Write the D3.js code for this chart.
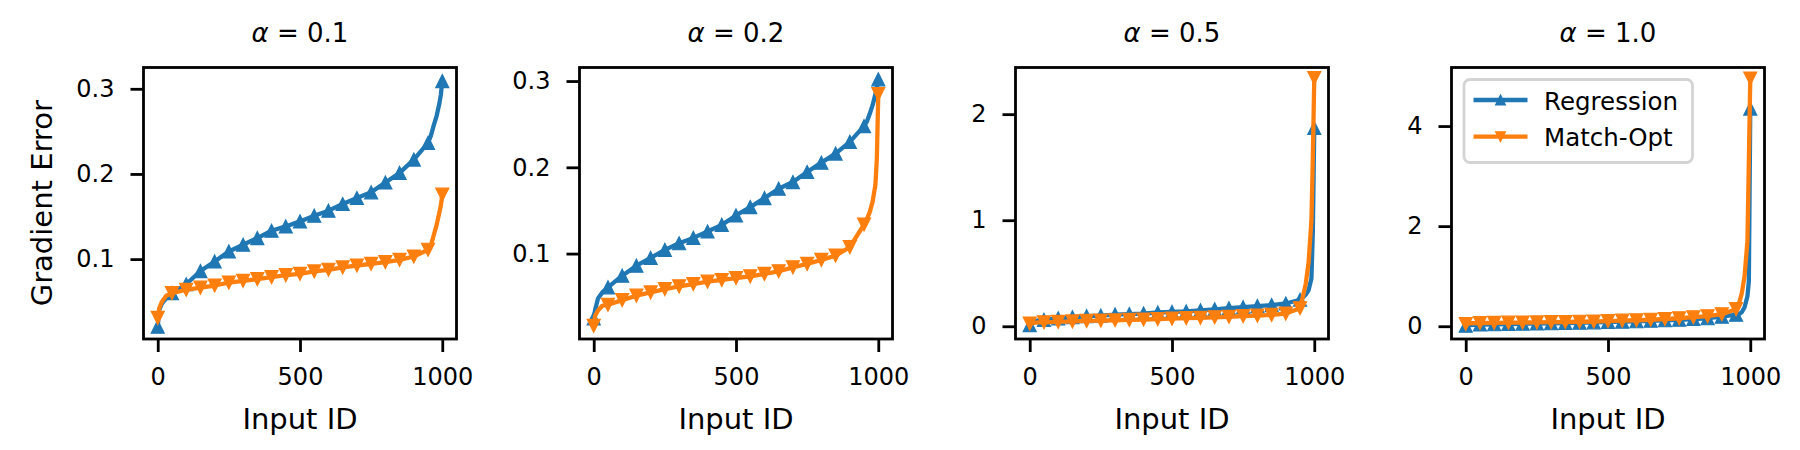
<!DOCTYPE html>
<html>
<head>
<meta charset="utf-8">
<script src="https://cdn.jsdelivr.net/npm/d3@7/dist/d3.min.js"></script>
<style>
  body { margin: 0; background: #fff; }
  svg { display: block; }
  text { font-family: "DejaVu Sans", sans-serif; fill: #000; }
</style>
</head>
<body>
<svg id="chart" width="1800" height="450"></svg>
<script>
// ---------------- DATA ----------------
const alphas = ["0.1", "0.2", "0.5", "1.0"];
const seriesNames = ["Regression", "Match-Opt"];
const inputIds = [0, 5, 15, 30, 50, 100, 150, 200, 250, 300, 350, 400, 450, 500, 550, 600, 650, 700, 750, 800, 850, 900, 950, 960, 970, 980, 990, 995, 1000];

const regression01 = [0.0207, 0.040, 0.048, 0.054, 0.060, 0.0705, 0.0860, 0.0973, 0.109, 0.1169, 0.1247, 0.1333, 0.1384, 0.1443, 0.151, 0.1569, 0.1647, 0.1718, 0.1784, 0.190, 0.2012, 0.2169, 0.2365, 0.245, 0.257, 0.268, 0.283, 0.293, 0.309];
const matchOpt01   = [0.031, 0.042, 0.050, 0.057, 0.060, 0.0640, 0.0665, 0.0690, 0.0725, 0.0745, 0.0765, 0.0788, 0.0812, 0.0827, 0.0855, 0.0875, 0.0902, 0.0925, 0.0945, 0.0965, 0.0992, 0.1031, 0.111, 0.116, 0.128, 0.140, 0.155, 0.163, 0.1757];

const regression02 = [0.025, 0.035, 0.048, 0.055, 0.0609, 0.0744, 0.086, 0.095, 0.1043, 0.112, 0.1182, 0.1256, 0.1333, 0.1442, 0.1539, 0.1643, 0.1752, 0.1829, 0.1946, 0.2054, 0.2159, 0.2295, 0.2477, 0.253, 0.262, 0.272, 0.285, 0.292, 0.302];
const matchOpt02   = [0.0163, 0.028, 0.034, 0.0395, 0.0407, 0.0461, 0.0512, 0.055, 0.0589, 0.062, 0.0647, 0.0674, 0.0694, 0.0717, 0.0736, 0.0764, 0.0795, 0.0841, 0.088, 0.0926, 0.0977, 0.1074, 0.1337, 0.140, 0.148, 0.160, 0.180, 0.210, 0.285];

const regression05 = [0.01, 0.03, 0.045, 0.055, 0.06, 0.075, 0.085, 0.095, 0.10, 0.11, 0.115, 0.12, 0.13, 0.135, 0.14, 0.15, 0.16, 0.17, 0.18, 0.19, 0.20, 0.215, 0.25, 0.27, 0.30, 0.34, 0.45, 0.9, 1.87];
const matchOpt05   = [0.025, 0.03, 0.033, 0.036, 0.038, 0.042, 0.046, 0.05, 0.054, 0.057, 0.06, 0.064, 0.068, 0.072, 0.076, 0.08, 0.085, 0.09, 0.095, 0.10, 0.107, 0.12, 0.17, 0.28, 0.40, 0.60, 1.0, 1.6, 2.34];

const regression10 = [0.01, 0.02, 0.025, 0.03, 0.035, 0.04, 0.045, 0.05, 0.055, 0.06, 0.065, 0.07, 0.078, 0.085, 0.092, 0.10, 0.11, 0.12, 0.13, 0.145, 0.16, 0.19, 0.23, 0.24, 0.28, 0.38, 0.60, 0.90, 4.35];
const matchOpt10   = [0.045, 0.055, 0.06, 0.063, 0.065, 0.068, 0.071, 0.074, 0.077, 0.081, 0.085, 0.09, 0.095, 0.103, 0.112, 0.12, 0.13, 0.145, 0.16, 0.18, 0.20, 0.24, 0.34, 0.45, 0.65, 1.0, 1.7, 3.3, 4.95];

const xTicks = [0, 500, 1000];
const yTicks01 = [0.1, 0.2, 0.3];
const yTicks02 = [0.1, 0.2, 0.3];
const yTicks05 = [0, 1, 2];
const yTicks10 = [0, 2, 4];
const markerEvery = 50;

// ---------------- LAYOUT / STYLE ----------------
const colors = ["#1f77b4", "#ff7f0e"];
const panels = [
  { alpha: alphas[0], series: [regression01, matchOpt01], yTicks: yTicks01, yDomain: [0.0062, 0.325], fmt: d3.format(".1f") },
  { alpha: alphas[1], series: [regression02, matchOpt02], yTicks: yTicks02, yDomain: [0.001, 0.3157], fmt: d3.format(".1f") },
  { alpha: alphas[2], series: [regression05, matchOpt05], yTicks: yTicks05, yDomain: [-0.12, 2.44], fmt: d3.format("d") },
  { alpha: alphas[3], series: [regression10, matchOpt10], yTicks: yTicks10, yDomain: [-0.255, 5.17], fmt: d3.format("d") },
];
const lefts = [143.5, 579.5, 1015.5, 1451.5];
const pw = 313, plotTop = 67.5, plotBottom = 339;
const frameW = 2.8, tickLen = 13, tickPad = 16;
const lineW = 4.3, mHalf = 6.5;

const svg = d3.select("#chart");

function triPath(up, s) {
  return up ? `M0,${-s}L${s},${s}L${-s},${s}Z` : `M0,${s}L${s},${-s}L${-s},${-s}Z`;
}

panels.forEach((p, pi) => {
  const x0 = lefts[pi];
  const x = d3.scaleLinear().domain([-50, 1050]).range([x0, x0 + pw]);
  const y = d3.scaleLinear().domain(p.yDomain).range([plotBottom, plotTop]);
  const g = svg.append("g");

  const clipId = "clip" + pi;
  svg.append("clipPath").attr("id", clipId)
    .append("rect").attr("x", x0).attr("y", plotTop).attr("width", pw).attr("height", plotBottom - plotTop);

  const plot = g.append("g").attr("clip-path", `url(#${clipId})`);
  p.series.forEach((vals, si) => {
    const pts = inputIds.map((id, i) => ({ id, v: vals[i] }));
    const line = d3.line().x(d => x(d.id)).y(d => y(d.v));
    plot.append("path").datum(pts)
      .attr("d", line)
      .attr("fill", "none")
      .attr("stroke", colors[si])
      .attr("stroke-width", lineW)
      .attr("stroke-linejoin", "round")
      .attr("stroke-linecap", "square");
    plot.selectAll(null).data(pts.filter(d => d.id % markerEvery === 0))
      .enter().append("path")
      .attr("transform", d => `translate(${x(d.id)},${y(d.v)})`)
      .attr("d", triPath(si === 0, mHalf))
      .attr("fill", colors[si])
      .attr("stroke", colors[si])
      .attr("stroke-width", 1.2)
      .attr("stroke-linejoin", "miter");
  });

  // axes
  const xa = g.append("g").attr("transform", `translate(0,${plotBottom})`)
    .call(d3.axisBottom(x).tickValues(xTicks).tickSize(tickLen).tickPadding(tickPad).tickFormat(d3.format("d")));
  const ya = g.append("g").attr("transform", `translate(${x0},0)`)
    .call(d3.axisLeft(y).tickValues(p.yTicks).tickSize(tickLen).tickPadding(tickPad).tickFormat(p.fmt));
  [xa, ya].forEach(a => {
    a.select(".domain").remove();
    a.selectAll(".tick line").attr("stroke", "#000").attr("stroke-width", frameW);
    a.selectAll(".tick text").attr("font-size", 24).attr("font-family", "DejaVu Sans").attr("fill", "#000");
  });

  // frame
  g.append("rect").attr("x", x0).attr("y", plotTop).attr("width", pw).attr("height", plotBottom - plotTop)
    .attr("fill", "none").attr("stroke", "#000").attr("stroke-width", frameW);

  // title
  const t = g.append("text").attr("x", x0 + pw / 2).attr("y", 42.3)
    .attr("text-anchor", "middle").attr("font-size", 26);
  t.append("tspan").attr("font-style", "italic").text("α");
  t.append("tspan").text(" = " + p.alpha);

  // x label
  g.append("text").attr("x", x0 + pw / 2).attr("y", 429)
    .attr("text-anchor", "middle").attr("font-size", 29).text("Input ID");

  if (pi === 0) {
    g.append("text").attr("transform", `translate(51.5,${(plotTop + plotBottom) / 2}) rotate(-90)`)
      .attr("text-anchor", "middle").attr("font-size", 29).text("Gradient Error");
  }

  if (pi === 3) {
    const lg = g.append("g");
    lg.append("rect").attr("x", 1464).attr("y", 79.5).attr("width", 228.5).attr("height", 83)
      .attr("rx", 6).attr("ry", 6)
      .attr("fill", "#fff").attr("fill-opacity", 0.8)
      .attr("stroke", "#d4d4d4").attr("stroke-width", frameW);
    seriesNames.forEach((name, si) => {
      const ly = 100 + si * 36.7;
      lg.append("line").attr("x1", 1473.5).attr("x2", 1527.5).attr("y1", ly).attr("y2", ly)
        .attr("stroke", colors[si]).attr("stroke-width", lineW);
      lg.append("path").attr("transform", `translate(1500.5,${ly})`)
        .attr("d", triPath(si === 0, mHalf * 0.75))
        .attr("fill", colors[si]).attr("stroke", colors[si]).attr("stroke-width", 1.2);
      lg.append("text").attr("x", 1544).attr("y", ly + 9.5).attr("font-size", 24.5).text(name);
    });
  }
});
</script>
</body>
</html>
